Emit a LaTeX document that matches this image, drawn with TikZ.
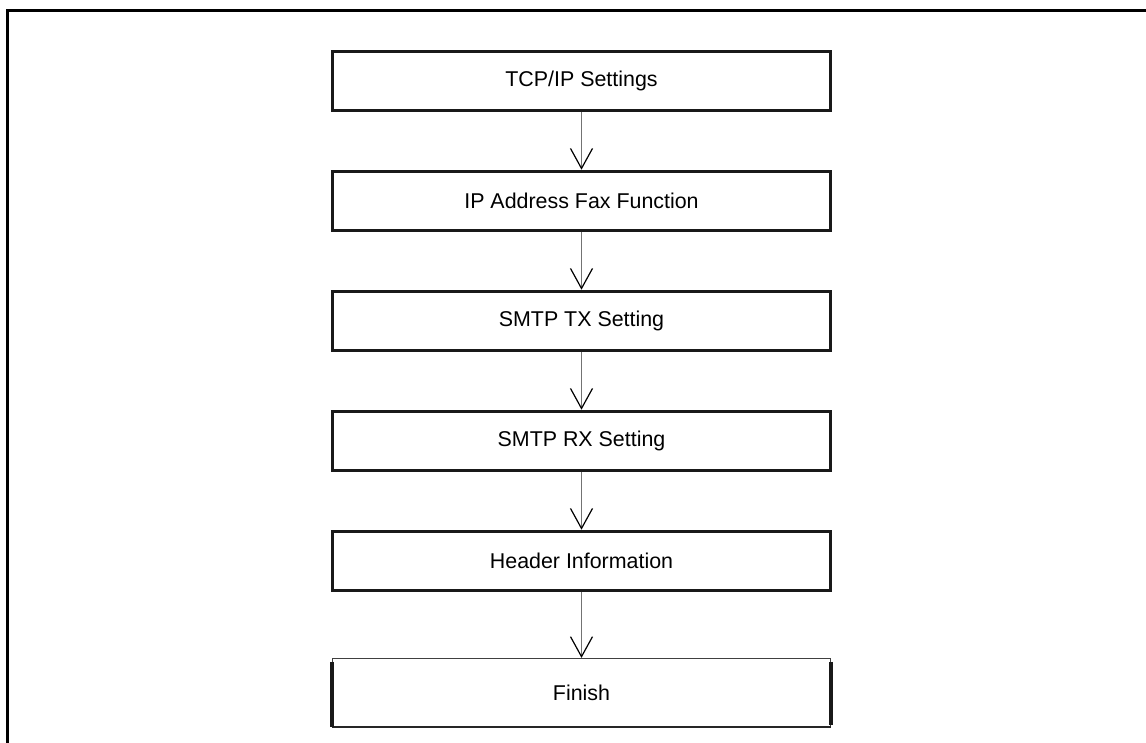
\documentclass[tikz,border=0pt]{standalone}
\usepackage{fontspec}
\setmainfont{Liberation Sans}
\usetikzlibrary{arrows.meta}

\begin{document}
\begin{tikzpicture}[x=0.5pt, y=-0.5pt,
  font=\fontsize{10.7}{13}\selectfont,
  stepbox/.style={draw=black!90, line width=1.8pt, minimum width=249pt, minimum height=29.5pt, inner sep=0pt},
  endbox/.style={draw=black!75, line width=0.6pt, minimum width=249pt, minimum height=34pt, inner sep=0pt},
  flow/.style={draw=black!55, line width=0.6pt, -{Straight Barb[length=10pt, width=11pt, color=black]}}]
  \useasboundingbox (0,0) rectangle (1146,743);

  % Outer frame (top and left edges only)
  \draw[line width=1.6pt] (7.5,743) -- (7.5,10.5) -- (1146,10.5);

  % Setting steps
  \node[stepbox] (tcpip)  at (581.5, 81)  {TCP/IP Settings};
  \node[stepbox] (ipfax)  at (581.5, 201) {IP Address Fax Function};
  \node[stepbox] (smtptx) at (581.5, 321) {SMTP TX Setting};
  \node[stepbox] (smtprx) at (581.5, 441) {SMTP RX Setting};
  \node[stepbox] (header) at (581.5, 561) {Header Information};

  % Finish box: thin top/bottom, thick sides
  \node[endbox] (finish) at (581.5, 692.5) {Finish};
  \draw[line width=0.9pt, black!85] (finish.south west) -- (finish.south east);
  \draw[line width=1.8pt, black!90] ([yshift=-2pt]finish.north west) -- (finish.south west);
  \draw[line width=1.8pt, black!90] ([yshift=-2pt]finish.north east) -- ([yshift=1pt]finish.south east);

  % Connectors
  \draw[flow] (tcpip.south) -- (ipfax.north);
  \draw[flow] (ipfax.south) -- (smtptx.north);
  \draw[flow] (smtptx.south) -- (smtprx.north);
  \draw[flow] (smtprx.south) -- (header.north);
  \draw[flow] (header.south) -- (finish.north);
\end{tikzpicture}
\end{document}
